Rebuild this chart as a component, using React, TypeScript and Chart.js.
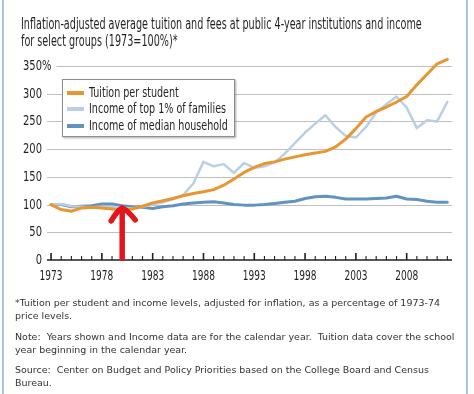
import React, { useEffect, useRef } from 'react';
import { Chart, registerables } from 'chart.js';

Chart.register(...registerables);

// ---------- data ----------
const years = [
  1973, 1974, 1975, 1976, 1977, 1978, 1979, 1980, 1981, 1982,
  1983, 1984, 1985, 1986, 1987, 1988, 1989, 1990, 1991, 1992,
  1993, 1994, 1995, 1996, 1997, 1998, 1999, 2000, 2001, 2002,
  2003, 2004, 2005, 2006, 2007, 2008, 2009, 2010, 2011, 2012,
];
const tuition = [
  100, 91, 88, 94, 95, 94, 92, 90, 92, 97,
  103, 107, 111, 116, 120, 123, 127, 135, 146, 158,
  167, 174, 177, 182, 186, 190, 193, 196, 204, 218,
  237, 258, 268, 276, 285, 295, 316, 335, 354, 362,
];
const top1 = [
  100, 101, 97, 96, 95, 96, 96, 94, 93, 96,
  100, 104, 110, 117, 138, 177, 169, 173, 157, 175,
  166, 169, 176, 192, 211, 230, 246, 261, 240, 224,
  221, 240, 266, 281, 295, 275, 238, 252, 250, 285,
];
const median = [
  100, 100, 96, 97, 98, 101, 101, 98, 96, 95,
  93, 96, 98, 101, 103, 104, 105, 103, 100, 99,
  99, 100, 102, 104, 106, 111, 114, 115, 113, 110,
  110, 110, 111, 112, 115, 110, 109, 106, 104, 104,
];
const seriesNames = [
  'Tuition per student',
  'Income of top 1% of families',
  'Income of median household',
];
const yTickValues = [0, 50, 100, 150, 200, 250, 300, 350];
const yTickLabels = ['0', '50', '100', '150', '200', '250', '300', '350%'];
const xLabelYears = [1973, 1978, 1983, 1988, 1993, 1998, 2003, 2008];
const xLabels = ['1973', '1978', '1983', '1988', '1993', '1998', '2003', '2008'];
const arrowYear = 1980;
const arrowFrom = 3;
const arrowTo = 94;

const titleLines = [
  'Inflation-adjusted average tuition and fees at public 4-year institutions and income',
  'for select groups (1973=100%)*',
];
const footLines = [
  ['*Tuition per student and income levels, adjusted for inflation, as a percentage of 1973-74', 'price levels.'],
  ['Note:  Years shown and Income data are for the calendar year.  Tuition data cover the school', 'year beginning in the calendar year.'],
  ['Source:  Center on Budget and Policy Priorities based on the College Board and Census', 'Bureau.'],
];

// ---------- styles ----------
const NARROW = '"Liberation Sans Narrow", "DejaVu Sans Condensed", "Arial Narrow", sans-serif';
const FOOT = '"DejaVu Sans Condensed", "DejaVu Sans", sans-serif';
const COLORS = ['#E8962F', '#B9D0E4', '#6192C2'];
const WIDTHS = [3, 2.5, 3];
const TEXT = '#231F20';

const mc = typeof document !== 'undefined' ? document.createElement('canvas') : null;
function measure(text: string, font: string): number {
  if (!mc) return 1;
  const c = mc.getContext('2d')!;
  c.font = font;
  return c.measureText(text).width;
}

function squeezeText(ctx: any, text: string, x: number, y: number, sx: number) {
  ctx.save();
  ctx.translate(x, y);
  ctx.scale(sx, 1);
  ctx.fillText(text, 0, 0);
  ctx.restore();
}

const axesPlugin = {
  id: 'customAxes',
  beforeDatasetsDraw(chart: any) {
    const { ctx, chartArea, scales } = chart;
    const x = scales.x;
    const y = scales.y;
    ctx.save();
    // y labels + gridlines
    const YSX = 19 / measure('300', `13.5px ${NARROW}`);
    ctx.font = `13.5px ${NARROW}`;
    ctx.textBaseline = 'middle';
    ctx.textAlign = 'left';
    const numRight = chartArea.left - 5;
    yTickValues.forEach((v, i) => {
      const py = y.getPixelForValue(v);
      const label = yTickLabels[i];
      const numW = ctx.measureText(String(v)).width * YSX;
      const lw = ctx.measureText(label).width * YSX;
      const sx = numRight - numW;
      ctx.fillStyle = TEXT;
      squeezeText(ctx, label, sx, py + 0.5, YSX);
      if (v !== 0) {
        const start = Math.max(chartArea.left, sx + lw + 5);
        ctx.strokeStyle = '#BFBFBF';
        ctx.lineWidth = 1;
        ctx.beginPath();
        ctx.moveTo(start, Math.round(py) + 0.5);
        ctx.lineTo(chartArea.right, Math.round(py) + 0.5);
        ctx.stroke();
      }
    });
    // x baseline
    const by = y.getPixelForValue(0);
    ctx.strokeStyle = '#231F20';
    ctx.lineWidth = 1.4;
    ctx.beginPath();
    ctx.moveTo(chartArea.left, by);
    ctx.lineTo(chartArea.right, by);
    ctx.stroke();
    // tick marks (upward)
    years.forEach((yr) => {
      const px = x.getPixelForValue(yr);
      const major = xLabelYears.includes(yr);
      ctx.lineWidth = major ? 1.6 : 1.1;
      ctx.beginPath();
      ctx.moveTo(px, by);
      ctx.lineTo(px, by - (major ? 7 : 4));
      ctx.stroke();
    });
    // x labels
    const XSX = 23 / measure('1973', `13.5px ${NARROW}`);
    ctx.font = `13.5px ${NARROW}`;
    ctx.textAlign = 'left';
    ctx.fillStyle = TEXT;
    xLabelYears.forEach((yr, i) => {
      const w = ctx.measureText(xLabels[i]).width * XSX;
      squeezeText(ctx, xLabels[i], x.getPixelForValue(yr) - w / 2, by + 16, XSX);
    });
    ctx.restore();
  },
};

const arrowPlugin = {
  id: 'arrow',
  afterDatasetsDraw(chart: any) {
    const { ctx, scales } = chart;
    const px = scales.x.getPixelForValue(arrowYear);
    const pTop = scales.y.getPixelForValue(arrowTo);
    const pBot = scales.y.getPixelForValue(arrowFrom);
    ctx.save();
    ctx.strokeStyle = '#E3161E';
    ctx.lineWidth = 5.5;
    ctx.lineCap = 'round';
    ctx.lineJoin = 'round';
    ctx.beginPath();
    ctx.moveTo(px, pBot);
    ctx.lineTo(px, pTop + 2);
    ctx.stroke();
    ctx.beginPath();
    ctx.moveTo(px - 11, pTop + 13);
    ctx.quadraticCurveTo(px - 5, pTop + 3, px, pTop);
    ctx.quadraticCurveTo(px + 6, pTop + 3, px + 13, pTop + 12);
    ctx.stroke();
    ctx.restore();
  },
};

function FitLine(props: { text: string; font: string; scale: number; left: number; top: number; lh: number; color: string }) {
  const { text, font, scale, left, top, lh, color } = props;
  return (
    <div
      style={{
        position: 'absolute',
        left,
        top,
        font,
        lineHeight: `${lh}px`,
        whiteSpace: 'pre',
        color,
        transform: `scaleX(${scale})`,
        transformOrigin: '0 0',
      }}
    >
      {text}
    </div>
  );
}

export default function App() {
  const ref = useRef<HTMLCanvasElement | null>(null);

  useEffect(() => {
    const canvas = ref.current;
    if (!canvas) return;
    const series = [tuition, top1, median];
    const chart = new Chart(canvas, {
      type: 'line',
      data: {
        datasets: series.map((s, k) => ({
          label: seriesNames[k],
          data: years.map((yr, i) => ({ x: yr, y: s[i] })),
          borderColor: COLORS[k],
          backgroundColor: COLORS[k],
          borderWidth: WIDTHS[k],
          pointRadius: 0,
          tension: 0,
          fill: false,
          clip: false as any,
        })),
      },
      options: {
        animation: false,
        responsive: false,
        devicePixelRatio: 1,
        layout: { padding: { left: 47, right: 22, top: 66, bottom: 134 } },
        scales: {
          x: { type: 'linear', min: 1972.6, max: 2012.46, display: false },
          y: { min: 0, max: 350, display: false },
        },
        elements: { line: { borderCapStyle: 'round', borderJoinStyle: 'round' } },
        plugins: { legend: { display: false }, tooltip: { enabled: false } },
      },
      plugins: [axesPlugin, arrowPlugin],
    } as any);
    return () => chart.destroy();
  }, []);

  const titleFont = `16.5px ${NARROW}`;
  const titleScale = 400.7 / measure(titleLines[0], titleFont);
  const legFont = `14.5px ${NARROW}`;
  const legScale = 137 / measure(seriesNames[1], legFont);
  const footFont = `9.5px ${FOOT}`;
  const footScale = 425 / measure(footLines[0][0], footFont);

  const footTops = [296, 330, 363];

  return (
    <div
      style={{
        position: 'absolute',
        left: 0,
        top: 0,
        width: 474,
        height: 394,
        overflow: 'hidden',
        background: '#fff',
      }}
    >
      <canvas ref={ref} width={474} height={394} style={{ position: 'absolute', left: 0, top: 0, width: 474, height: 394 }} />
      <div style={{ position: 'absolute', left: 2, top: 0, width: 2, height: 394, background: '#A9C5DF' }} />
      <div style={{ position: 'absolute', left: 465.5, top: 0, width: 2, height: 394, background: '#A9C5DF' }} />
      {titleLines.map((t, i) => (
        <FitLine key={t} text={t} font={titleFont} scale={titleScale} left={21} top={15 + i * 16.7} lh={17} color={TEXT} />
      ))}
      <div
        style={{
          position: 'absolute',
          left: 61.5,
          top: 79,
          width: 171,
          height: 56,
          background: '#fff',
          border: '1px solid #8E8E8E',
          boxShadow: '1px 1px 2px rgba(0,0,0,0.35)',
        }}
      >
        {seriesNames.map((name, i) => (
          <React.Fragment key={name}>
            <div
              style={{
                position: 'absolute',
                left: 4.5,
                top: 10.5 + i * 16.5,
                width: 17,
                height: 4,
                background: COLORS[i],
              }}
            />
            <FitLine text={name} font={legFont} scale={legScale} left={26} top={4.5 + i * 16.5} lh={14} color={TEXT} />
          </React.Fragment>
        ))}
      </div>
      {footLines.map((para, p) =>
        para.map((line, j) => (
          <FitLine
            key={line}
            text={line}
            font={footFont}
            scale={footScale}
            left={15}
            top={footTops[p] + j * 13}
            lh={13}
            color="#333"
          />
        ))
      )}
    </div>
  );
}
